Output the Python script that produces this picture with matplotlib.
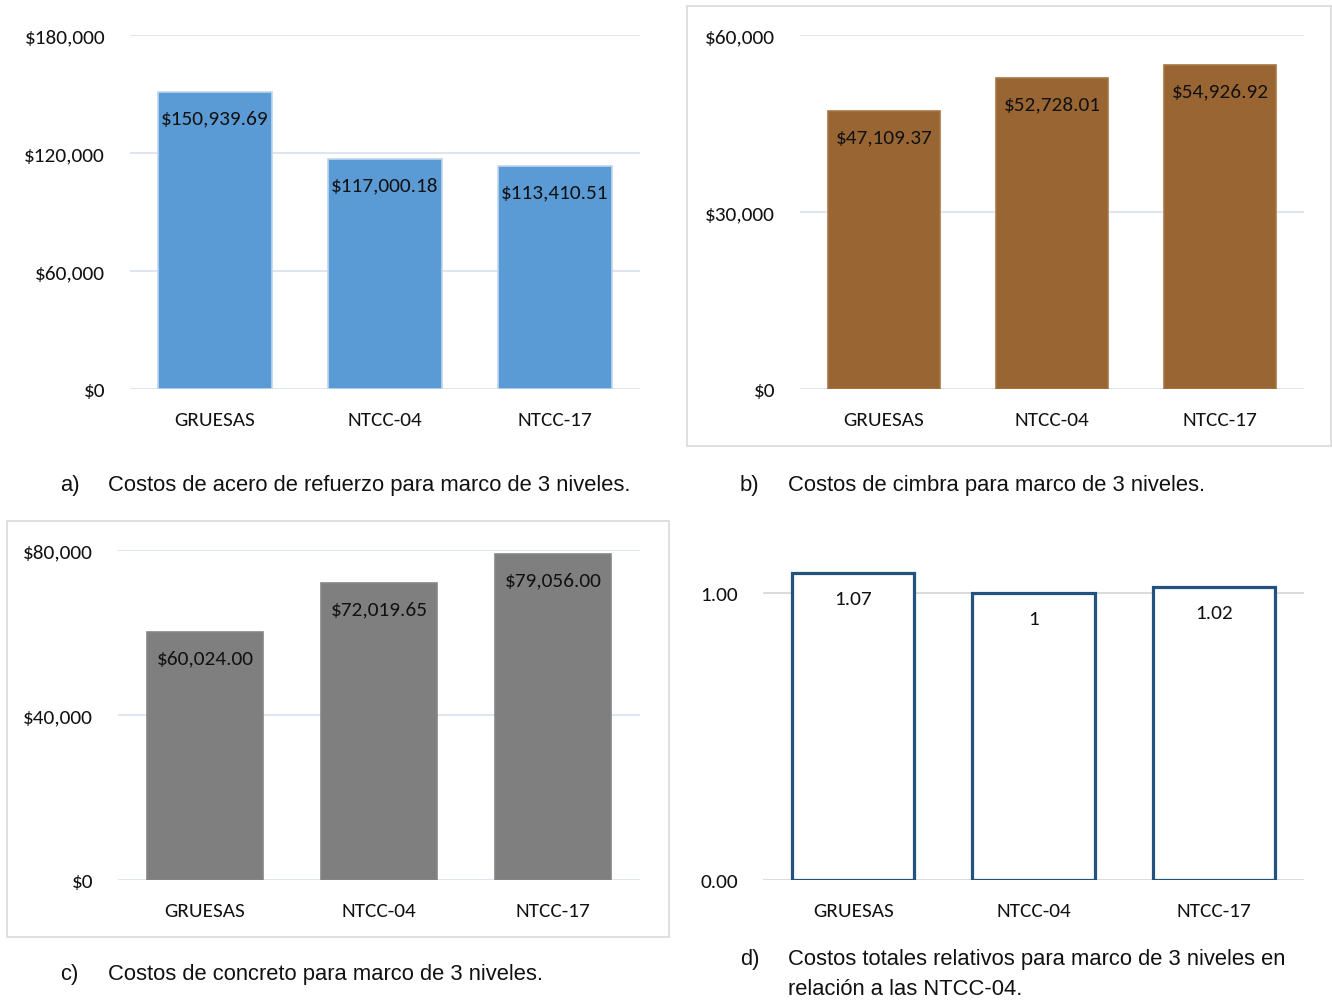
import matplotlib.pyplot as plt
from matplotlib.patches import Rectangle
from matplotlib.ticker import FuncFormatter

W, H = 1332, 1004

categorias = ["GRUESAS", "NTCC-04", "NTCC-17"]
acero = [150939.69, 117000.18, 113410.51]
cimbra = [47109.37, 52728.01, 54926.92]
concreto = [60024.00, 72019.65, 79056.00]
relativos = [1.07, 1.0, 1.02]
etiquetas_rel = ["1.07", "1", "1.02"]

ticks_acero = [0, 60000, 120000, 180000]
ticks_cimbra = [0, 30000, 60000]
ticks_concreto = [0, 40000, 80000]
ticks_rel = [0.0, 1.0]

calibri = ["Carlito", "Lato", "DejaVu Sans"]
narrow = ["Liberation Sans Narrow", "Liberation Sans", "DejaVu Sans"]

fig = plt.figure(figsize=(W / 100, H / 100), dpi=100)


def caja(x0, y0, x1, y1):
    # pixel box (top-left origin) -> figure fraction rect
    return [x0 / W, 1 - y1 / H, (x1 - x0) / W, (y1 - y0) / H]


def marco(x0, y0, x1, y1):
    fig.patches.append(Rectangle((x0 / W, 1 - y1 / H), (x1 - x0) / W, (y1 - y0) / H,
                                 transform=fig.transFigure, fill=False,
                                 edgecolor="#D9D9D9", linewidth=1.2))


def panel(rect, valores, textos, ticks, ymax, fmt, color, edge, grid, hueco=False):
    ax = fig.add_axes(rect)
    x = range(len(categorias))
    if hueco:
        barras = ax.bar(x, valores, width=0.68, facecolor="white",
                        edgecolor=edge, linewidth=2.3, zorder=3)
    else:
        barras = ax.bar(x, valores, width=0.67, color=color,
                        edgecolor=edge, linewidth=1.2, zorder=3)
    for b, t in zip(barras, textos):
        ax.annotate(t, (b.get_x() + b.get_width() / 2, b.get_height()),
                    xytext=(0, -18.5), textcoords="offset points",
                    ha="center", va="center", fontsize=15.3,
                    family=calibri, color="#111111", zorder=4)
    ax.set_xlim(-0.5, len(categorias) - 0.5)
    ax.set_ylim(0, ymax)
    ax.set_yticks(ticks)
    ax.yaxis.set_major_formatter(FuncFormatter(fmt))
    ax.set_xticks(list(x))
    ax.set_xticklabels(categorias)
    ax.grid(axis="y", color=grid, linewidth=1.3, zorder=0)
    ax.set_axisbelow(True)
    for s in ax.spines.values():
        s.set_visible(False)
    ax.tick_params(length=0)
    ax.tick_params(axis="x", pad=15.5)
    ax.tick_params(axis="y", pad=18)
    for lab in ax.get_yticklabels():
        lab.set_fontfamily(calibri)
        lab.set_fontsize(15.3)
        lab.set_color("#111111")
    for lab in ax.get_xticklabels():
        lab.set_fontfamily(calibri)
        lab.set_fontsize(15.3)
        lab.set_color("#111111")
    return ax


def pesos(v, pos):
    return f"${v:,.0f}"


def decimal(v, pos):
    return f"{v:.2f}"


# a) acero de refuerzo
panel(caja(130, 36, 640, 390), acero, [f"${v:,.2f}" for v in acero],
      ticks_acero, 180000, pesos, "#5B9BD5", "#BDD7EE", "#DCE3EE")

# b) cimbra
marco(687, 7, 1331, 447)
panel(caja(800, 36, 1304, 390), cimbra, [f"${v:,.2f}" for v in cimbra],
      ticks_cimbra, 60000, pesos, "#996633", "#A87545", "#DCE3EE")

# c) concreto
marco(7, 522, 669, 938)
panel(caja(118, 551, 640, 881), concreto, [f"${v:,.2f}" for v in concreto],
      ticks_concreto, 80000, pesos, "#7F7F7F", "#868686", "#DCE3EE")

# d) costos totales relativos
panel(caja(763, 560, 1304, 881), relativos, etiquetas_rel,
      ticks_rel, (881 - 560) / 287, decimal, None, "#24527F", "#D9D9D9", hueco=True)

# pies de figura
pies = [
    (60, 108, 486, "a)", ["Costos de acero de refuerzo para marco de 3 niveles."]),
    (740, 788, 486, "b)", ["Costos de cimbra para marco de 3 niveles."]),
    (60, 108, 975, "c)", ["Costos de concreto para marco de 3 niveles."]),
    (740, 788, 960, "d)", ["Costos totales relativos para marco de 3 niveles en",
                           "relación a las NTCC-04."]),
]
for xl, xt, y, letra, lineas in pies:
    fig.text(xl / W, 1 - y / H, letra, ha="left", va="center",
             fontsize=15.8, family=narrow, color="#111111")
    for i, linea in enumerate(lineas):
        fig.text(xt / W, 1 - (y + 30 * i) / H, linea, ha="left", va="center",
                 fontsize=15.8, family=narrow, color="#111111")

fig.savefig("out.png", dpi=100, facecolor="white")
